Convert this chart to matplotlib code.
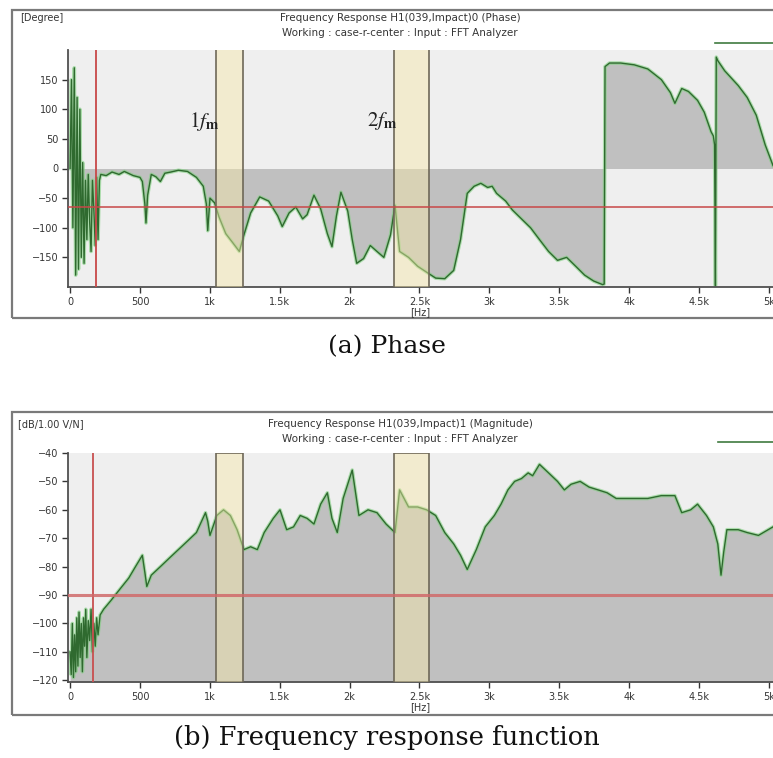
import matplotlib.pyplot as plt
from matplotlib.patches import Rectangle

# phase response (deg)
phase_freq = [0, 10, 20, 30, 40, 50, 60, 70, 80, 90, 100, 110, 120, 130, 140, 150, 160, 170, 180, 190,
              200, 210, 220, 258, 300, 350, 388, 452, 500, 517, 535, 543, 555, 581, 614, 646, 678, 720,
              775, 840, 904, 953, 975, 985, 1001, 1034, 1066, 1114, 1163, 1211, 1244, 1292, 1357, 1421,
              1486, 1518, 1567, 1615, 1664, 1696, 1745, 1793, 1841, 1874, 1906, 1938, 1987, 2019, 2051,
              2100, 2148, 2196, 2245, 2293, 2325, 2358, 2422, 2487, 2551, 2616, 2681, 2745, 2794, 2842,
              2891, 2939, 2988, 3020, 3052, 3117, 3165, 3230, 3295, 3359, 3424, 3488, 3553, 3618, 3682,
              3747, 3811, 3822, 3828, 3860, 3940, 4037, 4134, 4231, 4296, 4328, 4377, 4425, 4490, 4538,
              4587, 4603, 4612, 4618, 4624, 4635, 4684, 4781, 4845, 4910, 4974, 5030]
phase_deg = [0, 150, -100, 170, -180, 120, -170, 100, -150, 10, -160, -20, -120, -10, -90, -140, -20, -70, -130, -15,
             -120, -20, -10, -12, -6, -10, -5, -12, -15, -22, -60, -92, -45, -10, -14, -22, -8, -6,
             -3, -5, -15, -30, -60, -105, -50, -58, -82, -110, -125, -140, -112, -75, -48, -55,
             -80, -98, -75, -65, -85, -78, -45, -68, -110, -132, -80, -40, -72, -120, -160,
             -152, -130, -140, -150, -112, -62, -140, -150, -165, -175, -185, -186, -172, -120, -42,
             -30, -25, -32, -30, -42, -55, -70, -85, -100, -120, -140, -155, -150, -165, -180,
             -190, -196, -195, 172, 178, 178, 175, 168, 150, 128, 110, 135, 130, 115, 95,
             62, 55, 40, -198, 188, 182, 165, 140, 120, 90, 40, 5]

# magnitude (dB re 1 V/N)
mag_freq = [0, 8, 16, 24, 32, 40, 48, 56, 64, 72, 80, 88, 96, 104, 112, 120, 130, 140, 150, 160,
            170, 180, 190, 200, 215, 240, 291, 355, 420, 468, 517, 535, 549, 581, 646, 710, 775, 840,
            904, 969, 985, 1001, 1050, 1098, 1147, 1195, 1244, 1292, 1340, 1389, 1454, 1502, 1550, 1599,
            1647, 1696, 1745, 1793, 1841, 1874, 1912, 1954, 2019, 2067, 2132, 2196, 2261, 2325, 2358,
            2422, 2487, 2551, 2616, 2681, 2745, 2794, 2842, 2907, 2971, 3036, 3084, 3133, 3181, 3230,
            3278, 3310, 3359, 3424, 3488, 3537, 3585, 3650, 3714, 3779, 3843, 3908, 4005, 4134, 4231,
            4328, 4377, 4441, 4490, 4554, 4603, 4635, 4658, 4677, 4700, 4781, 4845, 4926, 5030]
mag_db = [-110, -118, -100, -119, -104, -117, -98, -115, -96, -112, -100, -117, -98, -108, -95, -112, -99, -106, -95, -110,
          -100, -108, -98, -104, -97, -95, -92, -88, -84, -80, -76, -82, -87, -83, -80, -77, -74, -71,
          -68, -61, -64, -69, -62, -60, -62, -67, -74, -73, -74, -68, -63, -60, -67, -66,
          -62, -63, -65, -58, -54, -63, -68, -56, -46, -62, -60, -61, -65, -68, -53,
          -59, -59, -60, -62, -68, -72, -76, -81, -74, -66, -62, -58, -53, -50, -49,
          -47, -48, -44, -47, -50, -53, -51, -50, -52, -53, -54, -56, -56, -56, -55,
          -55, -61, -60, -58, -62, -66, -72, -83, -75, -67, -67, -68, -69, -66]

band_1f = (1045, 1240)
band_2f = (2320, 2570)
xtick_vals = [0, 500, 1000, 1500, 2000, 2500, 3000, 3500, 4000, 4500, 5000]
xtick_labels = ['0', '500', '1k', '1.5k', '2k', '2.5k', '3k', '3.5k', '4k', '4.5k', '5k']
phase_ticks = [-150, -100, -50, 0, 50, 100, 150]
mag_ticks = [-120, -110, -100, -90, -80, -70, -60, -50, -40]

plt.rcParams['mathtext.fontset'] = 'stix'
txt = '#353535'

fig = plt.figure(figsize=(7.73, 7.58), dpi=100)

# outer window frames
for y0, h in [(0.5805, 0.4063), (0.0567, 0.3998)]:
    fig.patches.append(Rectangle((0.0155, y0), 1.0, h, transform=fig.transFigure,
                                 fill=False, ec='#7a7a7a', lw=1.6))


def style(ax, yticks):
    ax.set_facecolor('#efefef')
    for s in ['top', 'right']:
        ax.spines[s].set_visible(False)
    for s in ['left', 'bottom']:
        ax.spines[s].set_color('#505050')
        ax.spines[s].set_linewidth(1.3)
    ax.set_xlim(-15, 5030)
    ax.set_xticks(xtick_vals)
    ax.set_xticklabels(xtick_labels)
    ax.set_yticks(yticks)
    ax.tick_params(direction='out', length=4, width=1, labelsize=7, colors=txt, pad=3)


def bands(ax, ylo, yhi):
    for lo, hi in [band_1f, band_2f]:
        ax.fill_between([lo, hi], ylo, yhi, color='#f7e8a8', alpha=0.45, lw=0, zorder=3)
        ax.plot([lo, lo, hi, hi], [ylo, yhi, yhi, ylo], color='#6e6858', lw=1.2, zorder=4)


# ---- (a) phase ----
ax1 = fig.add_axes([68 / 773, 1 - 287 / 758, 1 - 68 / 773, 237 / 758])
style(ax1, phase_ticks)
ax1.set_ylim(-200, 200)
ax1.fill_between(phase_freq, phase_deg, 0, color='#c0c0c0', lw=0, interpolate=True, zorder=1)
ax1.plot(phase_freq, phase_deg, color='#7fd07f', lw=2.6, alpha=0.6, zorder=2)
ax1.plot(phase_freq, phase_deg, color='#2f6a2f', lw=1.0, zorder=2)
ax1.axvline(187, color='#c84848', lw=1.3, zorder=5)
ax1.axhline(-65, color='#c84848', lw=1.3, alpha=0.85, zorder=5)
bands(ax1, -200, 202)
ax1.text(960, 80, r'$1f_{\mathbf{m}}$', fontsize=15, ha='center', va='center', color='#222222', zorder=6)
ax1.text(2230, 80, r'$2f_{\mathbf{m}}$', fontsize=15, ha='center', va='center', color='#222222', zorder=6)

fig.text(20 / 773, 1 - 18 / 758, '[Degree]', fontsize=7, color=txt, va='center')
fig.text(400 / 773, 1 - 18 / 758, 'Frequency Response H1(039,Impact)0 (Phase)', fontsize=7.5,
         color=txt, ha='center', va='center')
fig.text(400 / 773, 1 - 33 / 758, 'Working : case-r-center : Input : FFT Analyzer', fontsize=7.5,
         color=txt, ha='center', va='center')
fig.text(420 / 773, 1 - 312 / 758, '[Hz]', fontsize=7, color=txt, ha='center', va='center')
fig.add_artist(plt.Line2D([715 / 773, 1.0], [1 - 43 / 758] * 2, color='#3f7a3f', lw=1.2))
fig.text(387 / 773, 1 - 347 / 758, '(a) Phase', fontsize=18, family='DejaVu Serif',
         ha='center', va='center', color='#111111')

# ---- (b) magnitude ----
ax2 = fig.add_axes([68 / 773, 1 - 682 / 758, 1 - 68 / 773, 229 / 758])
style(ax2, mag_ticks)
ax2.set_ylim(-120.6, -40)
ax2.fill_between(mag_freq, mag_db, -120.6, color='#c0c0c0', lw=0, zorder=1)
ax2.plot(mag_freq, mag_db, color='#7fd07f', lw=2.6, alpha=0.6, zorder=2)
ax2.plot(mag_freq, mag_db, color='#2f6a2f', lw=1.0, zorder=2)
ax2.axvline(165, color='#c85050', lw=1.3, zorder=5)
ax2.axhline(-90, color='#d06a6a', lw=2.2, alpha=0.85, zorder=5)
bands(ax2, -120.6, -40)

fig.text(18 / 773, 1 - 424 / 758, '[dB/1.00 V/N]', fontsize=7, color=txt, va='center')
fig.text(400 / 773, 1 - 424 / 758, 'Frequency Response H1(039,Impact)1 (Magnitude)', fontsize=7.5,
         color=txt, ha='center', va='center')
fig.text(400 / 773, 1 - 439 / 758, 'Working : case-r-center : Input : FFT Analyzer', fontsize=7.5,
         color=txt, ha='center', va='center')
fig.text(420 / 773, 1 - 707 / 758, '[Hz]', fontsize=7, color=txt, ha='center', va='center')
fig.add_artist(plt.Line2D([718 / 773, 1.0], [1 - 442 / 758] * 2, color='#3f7a3f', lw=1.2))
fig.text(387 / 773, 1 - 738 / 758, '(b) Frequency response function', fontsize=18.5,
         family='DejaVu Serif', ha='center', va='center', color='#111111')

fig.savefig('out.png', dpi=100)
